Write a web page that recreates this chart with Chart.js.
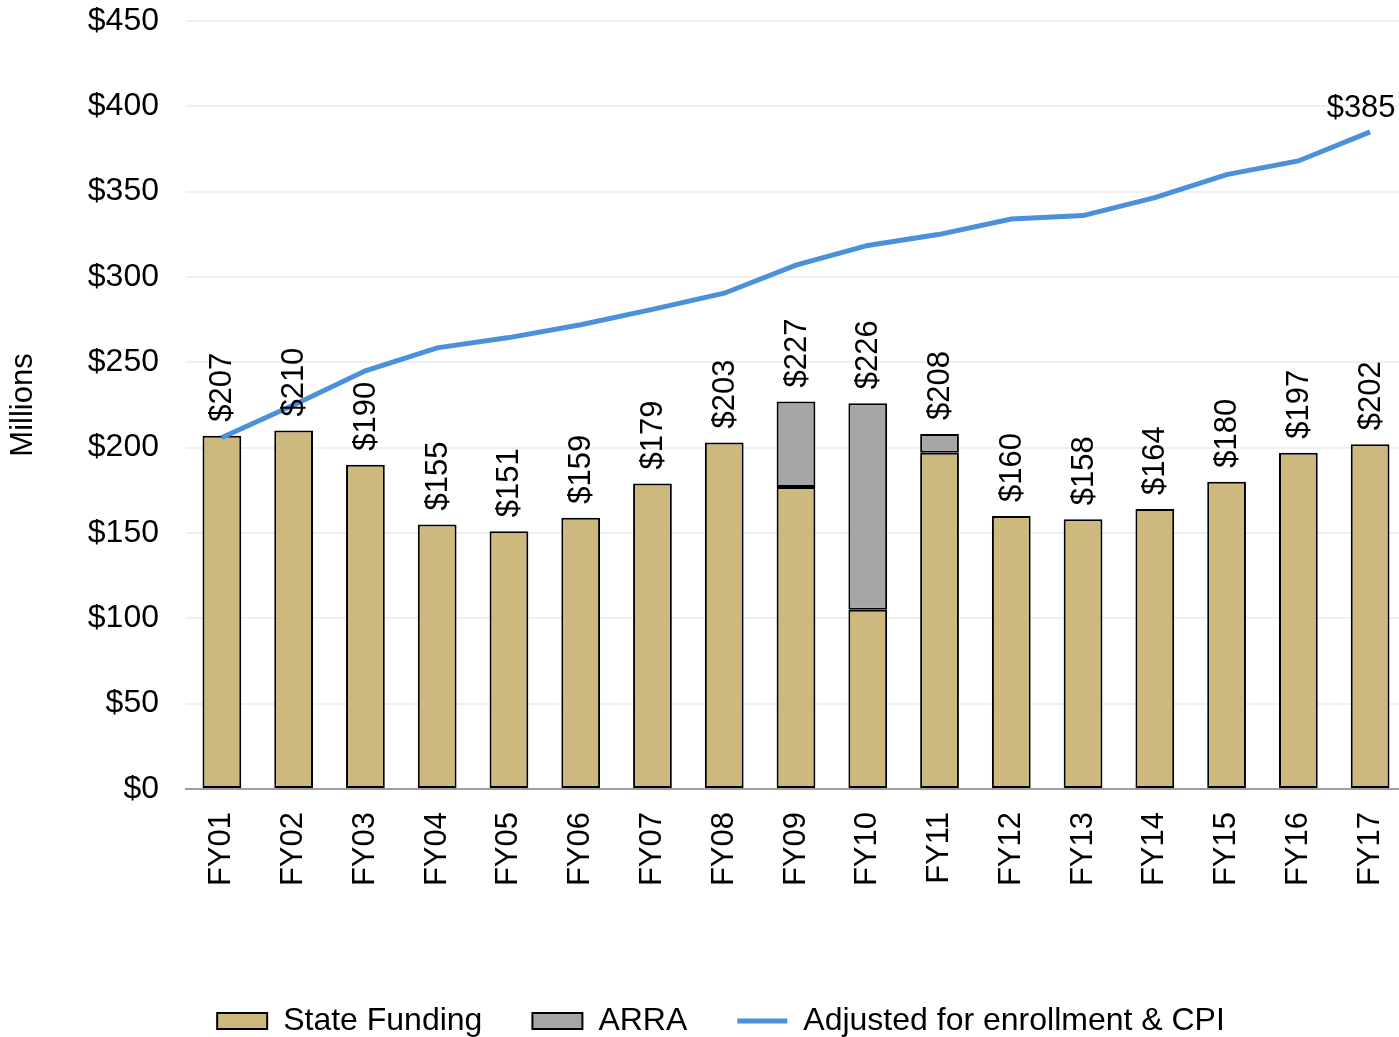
<!DOCTYPE html>
<html>
<head>
<meta charset="utf-8">
<script src="https://cdn.jsdelivr.net/npm/chart.js@4"></script>
<style>
  html, body { margin: 0; padding: 0; overflow: hidden; background: #fff; }
  #wrap { position: absolute; left: 0; top: 0; width: 1406px; height: 1047px; }
  canvas { display: block; }
</style>
</head>
<body>
<div id="wrap"><canvas id="c" width="1406" height="1047" style="width:1406px;height:1047px"></canvas></div>
<script>
const categories = ['FY01','FY02','FY03','FY04','FY05','FY06','FY07','FY08','FY09','FY10','FY11','FY12','FY13','FY14','FY15','FY16','FY17'];
const stateFunding = [207, 210, 190, 155, 151, 159, 179, 203, 177, 105, 197, 160, 158, 164, 180, 197, 202];
const arraFunding = [null, null, null, null, null, null, null, null, 50, 121, 11, null, null, null, null, null, null];
const adjustedLine = [206, 225, 245, 258.5, 264.5, 272, 281, 290.5, 307, 318.5, 325, 334, 336, 346.5, 360, 368, 385];
const seriesNames = ['State Funding', 'ARRA', 'Adjusted for enrollment & CPI'];
const yAxisTitle = 'Millions';

const FONT = '"Liberation Sans", Arial, sans-serif';
Chart.defaults.font.family = FONT;
Chart.defaults.color = '#000';

const valueLabels = {
  id: 'valueLabels',
  afterDatasetsDraw(chart) {
    const ctx = chart.ctx;
    const xs = chart.scales.x, ys = chart.scales.y;
    ctx.save();
    ctx.font = '31px ' + FONT;
    ctx.fillStyle = '#000';
    categories.forEach((c, i) => {
      const total = stateFunding[i] + (arraFunding[i] || 0);
      const px = xs.getPixelForValue(i);
      const py = ys.getPixelForValue(total);
      ctx.save();
      ctx.translate(px + 1, py - 14);
      ctx.rotate(-Math.PI / 2);
      ctx.textAlign = 'left';
      ctx.textBaseline = 'middle';
      ctx.fillText('$' + total, 0, 0);
      ctx.restore();
    });
    const meta = chart.getDatasetMeta(2);
    const last = meta.data.length - 1;
    const pt = meta.data[last];
    ctx.textAlign = 'center';
    ctx.textBaseline = 'middle';
    ctx.fillText('$' + Math.round(adjustedLine[last]), pt.x - 9, pt.y - 23);
    ctx.restore();
  }
};

new Chart(document.getElementById('c'), {
  type: 'bar',
  data: {
    labels: categories,
    datasets: [
      {
        label: seriesNames[0],
        data: stateFunding,
        backgroundColor: '#CDB97D',
        borderColor: '#000',
        borderWidth: 2,
        borderSkipped: false,
        barPercentage: 0.54,
        categoryPercentage: 1,
        stack: 'bars',
        order: 1
      },
      {
        label: seriesNames[1],
        data: arraFunding,
        backgroundColor: '#A6A6A6',
        borderColor: '#000',
        borderWidth: 2,
        borderSkipped: false,
        barPercentage: 0.54,
        categoryPercentage: 1,
        stack: 'bars',
        order: 1
      },
      {
        type: 'line',
        label: seriesNames[2],
        data: adjustedLine,
        borderColor: '#4A90DA',
        backgroundColor: '#4A90DA',
        borderWidth: 5,
        pointRadius: 0,
        tension: 0,
        fill: false,
        stack: 'line',
        order: 0
      }
    ]
  },
  options: {
    responsive: false,
    devicePixelRatio: 1,
    animation: false,
    layout: { padding: { left: 36, right: 0, top: 21, bottom: 0 } },
    plugins: {
      tooltip: { enabled: false },
      legend: {
        position: 'bottom',
        labels: {
          font: { size: 32, family: FONT },
          color: '#000',
          padding: 50,
          usePointStyle: true,
          pointStyleWidth: 50,
          boxWidth: 50,
          boxHeight: 16,
          sort: (a, b) => a.datasetIndex - b.datasetIndex,
          generateLabels(chart) {
            const items = Chart.defaults.plugins.legend.labels.generateLabels(chart);
            items.forEach(it => {
              if (it.datasetIndex === 2) {
                it.pointStyle = 'line';
                it.strokeStyle = '#4A90DA';
                it.lineWidth = 5;
              } else {
                it.pointStyle = 'rect';
                it.strokeStyle = '#000';
                it.lineWidth = 2;
              }
            });
            return items;
          }
        }
      }
    },
    scales: {
      x: {
        stacked: true,
        offset: true,
        grid: { display: false, drawTicks: false },
        border: { display: true, color: '#9E9E9E', width: 2 },
        ticks: {
          font: { size: 31, family: FONT },
          color: '#000',
          minRotation: 90,
          maxRotation: 90,
          padding: 23,
          autoSkip: false
        },
        afterFit(s) { s.height = 166; s.paddingLeft = 0; s.paddingRight = 0; }
      },
      y: {
        stacked: true,
        min: 0,
        max: 450,
        ticks: {
          stepSize: 50,
          font: { size: 32, family: FONT },
          color: '#000',
          padding: 27,
          callback: v => '$' + v
        },
        grid: {
          drawTicks: false,
          lineWidth: 2,
          color: ctx => (ctx.tick && ctx.tick.value === 0) ? 'rgba(0,0,0,0)' : '#F0F0F0'
        },
        border: { display: false },
        title: {
          display: true,
          text: yAxisTitle,
          font: { size: 31, family: FONT },
          color: '#000',
          padding: { top: -31, bottom: 0 }
        },
        afterFit(s) { s.width = 150; s.paddingTop = 0; s.paddingBottom = 0; }
      }
    }
  },
  plugins: [valueLabels]
});
</script>
</body>
</html>
